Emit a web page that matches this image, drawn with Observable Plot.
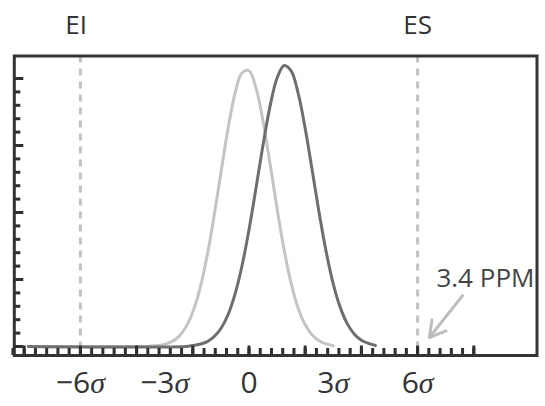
<!DOCTYPE html>
<html><head><meta charset="utf-8">
<script src="https://cdn.jsdelivr.net/npm/d3@7"></script>
<script src="https://cdn.jsdelivr.net/npm/@observablehq/plot@0.6"></script>
<style>html,body{margin:0;padding:0;background:#fff}</style>
</head><body><div id="chart"></div>
<script>
// Process distribution centred near 0 (light) and shifted one (dark); x in sigma units, y in axis-tick units
const lightX = [-7.85, -3.75, -3.5, -3.25, -3.0, -2.75, -2.5, -2.25, -2.0, -1.75, -1.5, -1.25, -1.0, -0.75, -0.5, -0.25, 0, 0.25, 0.5, 0.75, 1.0, 1.25, 1.5, 1.75, 2.0, 2.25, 2.5, 2.75, 3.0];
const lightY = [0, 0, 0.03, 0.07, 0.16, 0.36, 0.74, 1.43, 2.57, 4.29, 6.67, 9.64, 12.96, 16.21, 18.87, 20.43, 20.58, 19.28, 16.81, 13.63, 10.28, 7.22, 4.71, 2.86, 1.62, 0.85, 0.42, 0.19, 0.06];
const darkX = [-7.85, -2.25, -2.0, -1.75, -1.5, -1.25, -1.0, -0.75, -0.5, -0.25, 0, 0.25, 0.5, 0.75, 1.0, 1.25, 1.5, 1.75, 2.0, 2.25, 2.5, 2.75, 3.0, 3.25, 3.5, 3.75, 4.0, 4.25, 4.5];
const darkY = [0, 0, 0.07, 0.17, 0.35, 0.71, 1.34, 2.35, 3.89, 6.01, 8.71, 11.83, 15.05, 17.94, 20.04, 20.97, 20.57, 18.90, 16.27, 13.13, 9.93, 7.03, 4.66, 2.90, 1.69, 0.92, 0.47, 0.23, 0.08];

const limitLabels = ["EI", "ES"];
const limitPositions = [-6, 6];
const limitLabelPositions = [-6.15, 6];
const sigmaLabels = ["−6σ", "−3σ", "0", "3σ", "6σ"];
const sigmaPositions = [-6, -3, 0, 3, 6];
const noteLabel = ["3.4 PPM"];
const notePosition = [{x: 6.67, y: 5.07}];
const arrowPosition = [{x1: 7.6, y1: 3.8, x2: 6.42, y2: 0.67}];

const xMinorTicks = d3.range(-84, 81, 4).map(v => v / 10);
const xMajorTicks = [-8, -6, -4, -2, 0, 2, 4, 6, 8];
const yMinorTicks = d3.range(0, 21, 1);
const yMajorTicks = [0, 5, 10, 15, 20];

const light = lightX.map((x, i) => ({x, y: lightY[i]}));
const dark = darkX.map((x, i) => ({x, y: darkY[i]}));

const axisStyle = {fill: "none", stroke: "#2f2f2f", strokeWidth: 3, label: null};

const chart = Plot.plot({
  width: 545,
  height: 406,
  marginLeft: 13.8,
  marginRight: 8.5,
  marginTop: 55.5,
  marginBottom: 51,
  x: {domain: [-8.352, 10.249]},
  y: {domain: [-0.672, 21.68]},
  style: {fontFamily: "'Open Sans', sans-serif", color: "#333", background: "#fff"},
  marks: [
    Plot.ruleX(limitPositions, {stroke: "#c2c2c2", strokeWidth: 3, strokeDasharray: "7,6"}),
    Plot.line(light, {x: "x", y: "y", curve: "catmull-rom", stroke: "#c4c4c4", strokeWidth: 3}),
    Plot.line(dark, {x: "x", y: "y", curve: "catmull-rom", stroke: "#6e6e6e", strokeWidth: 3}),
    Plot.axisX({ticks: xMinorTicks, tickSize: 7, dy: -7, ...axisStyle}),
    Plot.axisX({ticks: xMajorTicks, tickSize: 9.5, dy: -9.5, ...axisStyle}),
    Plot.axisY({ticks: yMinorTicks, tickSize: 6.5, dx: 6.5, ...axisStyle}),
    Plot.axisY({ticks: yMajorTicks, tickSize: 9.5, dx: 9.5, ...axisStyle}),
    Plot.frame({stroke: "#333", strokeWidth: 3}),
    Plot.arrow(arrowPosition, {x1: "x1", y1: "y1", x2: "x2", y2: "y2", stroke: "#bdbdbd", strokeWidth: 3, headLength: 15}),
    Plot.text(sigmaLabels, {x: (d, i) => sigmaPositions[i], text: d => d, frameAnchor: "bottom", dy: 37, fontSize: 30, fill: "#333"}),
    Plot.text(limitLabels, {x: (d, i) => limitLabelPositions[i], text: d => d, frameAnchor: "top", dy: -40.5, fontSize: 26, fill: "#333", letterSpacing: "3px"}),
    Plot.text(noteLabel, {x: (d, i) => notePosition[i].x, y: (d, i) => notePosition[i].y, text: d => d, textAnchor: "start", fontSize: 26, fill: "#444"})
  ]
});

// render sigma glyphs in a serif italic, as in the reference
chart.querySelectorAll("text").forEach(t => {
  const s = t.textContent;
  if (!s.includes("σ")) return;
  t.textContent = "";
  for (const part of s.split(/(σ)/)) {
    if (!part) continue;
    const ts = document.createElementNS("http://www.w3.org/2000/svg", "tspan");
    ts.textContent = part;
    if (part === "σ") {
      ts.setAttribute("font-family", "'Liberation Serif', serif");
      ts.setAttribute("font-style", "italic");
    }
    t.appendChild(ts);
  }
});

document.getElementById("chart").appendChild(chart);
</script>
</body></html>
